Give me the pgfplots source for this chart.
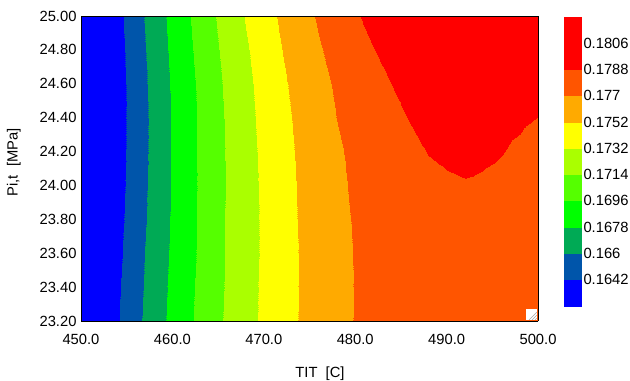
\documentclass[border=0pt]{standalone}
\usepackage{pgfplots}
\pgfplotsset{compat=1.18}
\usepackage{fontspec}
\setmainfont{Liberation Sans}
\newcommand{\lbl}{\fontsize{14.8}{17}\selectfont}
\begin{document}
\begin{tikzpicture}
\useasboundingbox (0,0) rectangle (630bp,381bp);
\begin{axis}[
  at={(81bp,60bp)}, anchor=south west,
  scale only axis, width=457bp, height=305bp,
  view={0}{90},
  xmin=450, xmax=500, ymin=23.2, ymax=25.0,
  xtick={450,460,470,480,490,500},
  xticklabels={450.0,460.0,470.0,480.0,490.0,500.0},
  ytick={23.2,23.4,23.6,23.8,24.0,24.2,24.4,24.6,24.8,25.0},
  yticklabels={23.20,23.40,23.60,23.80,24.00,24.20,24.40,24.60,24.80,25.00},
  major tick length=0pt,
  tick label style={font=\lbl, text=black},
  xticklabel style={yshift=-10bp},
  yticklabel style={xshift=-1bp},
  xlabel={TIT\ \ [C]}, ylabel={Pi,t\ \ [MPa]},
  label style={font=\lbl},
  xlabel style={at={(axis description cs:0.523,-0.172)}, anchor=center},
  ylabel style={at={(axis description cs:-0.147,0.52)}, anchor=center, rotate=0},
  axis line style={black, line width=0.7bp},
  axis on top,
  colormap={cmap}{rgb255=(0,0,255) rgb255=(0,85,170) rgb255=(0,170,85) rgb255=(0,255,0) rgb255=(85,255,0) rgb255=(170,255,0) rgb255=(255,255,0) rgb255=(255,170,0) rgb255=(255,85,0) rgb255=(255,0,0) rgb255=(255,0,0)},
  colormap access=piecewise constant,
  point meta min=0.16238, point meta max=0.18240,
  colorbar,
  colorbar style={
    at={(parent axis.north east)}, anchor=north west,
    xshift=17bp, yshift=-1bp,
    scale only axis, width=18bp, height=289bp,
    ytick={0.1642,0.16602,0.16784,0.16966,0.17148,0.1733,0.17512,0.17694,0.17876,0.18058},
    yticklabels={0.1642,0.166,0.1678,0.1696,0.1714,0.1732,0.1752,0.177,0.1788,0.1806},
    yticklabel style={font=\lbl, xshift=-1.5bp},
    major tick length=0pt,
    axis line style={draw=none},
  },
]
\addplot3[surf, shader=interp, mesh/cols=26] table {
x y z
450 23.2 0.16123
452 23.2 0.16267
454 23.2 0.16411
456 23.2 0.16557
458 23.2 0.16695
460 23.2 0.16828
462 23.2 0.16951
464 23.2 0.17066
466 23.2 0.17173
468 23.2 0.17272
470 23.2 0.17363
472 23.2 0.17443
474 23.2 0.17521
476 23.2 0.17581
478 23.2 0.17641
480 23.2 0.17700
482 23.2 0.17729
484 23.2 0.17750
486 23.2 0.17769
488 23.2 0.17781
490 23.2 0.17791
492 23.2 0.17798
494 23.2 0.17801
496 23.2 0.17803
498 23.2 0.17805
500 23.2 0.17805

450 23.4 0.16111
452 23.4 0.16256
454 23.4 0.16400
456 23.4 0.16546
458 23.4 0.16686
460 23.4 0.16819
462 23.4 0.16944
464 23.4 0.17057
466 23.4 0.17166
468 23.4 0.17266
470 23.4 0.17361
472 23.4 0.17441
474 23.4 0.17519
476 23.4 0.17579
478 23.4 0.17639
480 23.4 0.17699
482 23.4 0.17730
484 23.4 0.17754
486 23.4 0.17774
488 23.4 0.17789
490 23.4 0.17800
492 23.4 0.17807
494 23.4 0.17810
496 23.4 0.17812
498 23.4 0.17814
500 23.4 0.17814

450 23.6 0.16080
452 23.6 0.16231
454 23.6 0.16384
456 23.6 0.16535
458 23.6 0.16677
460 23.6 0.16808
462 23.6 0.16933
464 23.6 0.17050
466 23.6 0.17163
468 23.6 0.17261
470 23.6 0.17356
472 23.6 0.17439
474 23.6 0.17519
476 23.6 0.17583
478 23.6 0.17645
480 23.6 0.17701
482 23.6 0.17734
484 23.6 0.17761
486 23.6 0.17785
488 23.6 0.17803
490 23.6 0.17816
492 23.6 0.17823
494 23.6 0.17827
496 23.6 0.17827
498 23.6 0.17825
500 23.6 0.17821

450 23.8 0.16072
452 23.8 0.16222
454 23.8 0.16371
456 23.8 0.16520
458 23.8 0.16664
460 23.8 0.16800
462 23.8 0.16930
464 23.8 0.17048
466 23.8 0.17163
468 23.8 0.17261
470 23.8 0.17357
472 23.8 0.17443
474 23.8 0.17525
476 23.8 0.17588
478 23.8 0.17652
480 23.8 0.17707
482 23.8 0.17741
484 23.8 0.17772
486 23.8 0.17800
488 23.8 0.17820
490 23.8 0.17834
492 23.8 0.17841
494 23.8 0.17843
496 23.8 0.17840
498 23.8 0.17832
500 23.8 0.17821

450 24.0 0.16063
452 24.0 0.16213
454 24.0 0.16362
456 24.0 0.16511
458 24.0 0.16657
460 24.0 0.16793
462 24.0 0.16928
464 24.0 0.17046
466 24.0 0.17157
468 24.0 0.17263
470 24.0 0.17361
472 24.0 0.17448
474 24.0 0.17528
476 24.0 0.17598
478 24.0 0.17665
480 24.0 0.17716
482 24.0 0.17754
484 24.0 0.17790
486 24.0 0.17823
488 24.0 0.17849
490 24.0 0.17865
492 24.0 0.17871
494 24.0 0.17867
496 24.0 0.17854
498 24.0 0.17832
500 24.0 0.17803

450 24.1 0.16060
452 24.1 0.16209
454 24.1 0.16358
456 24.1 0.16507
458 24.1 0.16655
460 24.1 0.16793
462 24.1 0.16928
464 24.1 0.17048
466 24.1 0.17159
468 24.1 0.17266
470 24.1 0.17365
472 24.1 0.17452
474 24.1 0.17534
476 24.1 0.17603
478 24.1 0.17670
480 24.1 0.17719
482 24.1 0.17758
484 24.1 0.17796
486 24.1 0.17832
488 24.1 0.17861
490 24.1 0.17877
492 24.1 0.17883
494 24.1 0.17877
496 24.1 0.17863
498 24.1 0.17843
500 24.1 0.17812

450 24.2 0.16056
452 24.2 0.16205
454 24.2 0.16355
456 24.2 0.16502
458 24.2 0.16651
460 24.2 0.16793
462 24.2 0.16928
464 24.2 0.17048
466 24.2 0.17161
468 24.2 0.17268
470 24.2 0.17368
472 24.2 0.17456
474 24.2 0.17537
476 24.2 0.17607
478 24.2 0.17676
480 24.2 0.17723
482 24.2 0.17761
484 24.2 0.17801
486 24.2 0.17840
488 24.2 0.17880
490 24.2 0.17898
492 24.2 0.17905
494 24.2 0.17898
496 24.2 0.17881
498 24.2 0.17854
500 24.2 0.17821

450 24.4 0.16056
452 24.4 0.16205
454 24.4 0.16355
456 24.4 0.16502
458 24.4 0.16651
460 24.4 0.16793
462 24.4 0.16928
464 24.4 0.17050
466 24.4 0.17168
468 24.4 0.17279
470 24.4 0.17377
472 24.4 0.17468
474 24.4 0.17550
476 24.4 0.17623
478 24.4 0.17696
480 24.4 0.17743
482 24.4 0.17790
484 24.4 0.17838
486 24.4 0.17883
488 24.4 0.17912
490 24.4 0.17923
492 24.4 0.17929
494 24.4 0.17925
496 24.4 0.17912
498 24.4 0.17896
500 24.4 0.17874

450 24.6 0.16038
452 24.6 0.16194
454 24.6 0.16351
456 24.6 0.16507
458 24.6 0.16658
460 24.6 0.16802
462 24.6 0.16935
464 24.6 0.17061
466 24.6 0.17179
468 24.6 0.17290
470 24.6 0.17392
472 24.6 0.17487
474 24.6 0.17568
476 24.6 0.17647
478 24.6 0.17716
480 24.6 0.17770
482 24.6 0.17823
484 24.6 0.17878
486 24.6 0.17927
488 24.6 0.17963
490 24.6 0.17985
492 24.6 0.17996
494 24.6 0.18000
496 24.6 0.17998
498 24.6 0.17992
500 24.6 0.17985

450 24.8 0.16045
452 24.8 0.16203
454 24.8 0.16362
456 24.8 0.16520
458 24.8 0.16673
460 24.8 0.16817
462 24.8 0.16953
464 24.8 0.17081
466 24.8 0.17201
468 24.8 0.17312
470 24.8 0.17414
472 24.8 0.17512
474 24.8 0.17598
476 24.8 0.17681
478 24.8 0.17747
480 24.8 0.17809
482 24.8 0.17871
484 24.8 0.17929
486 24.8 0.17976
488 24.8 0.18007
490 24.8 0.18027
492 24.8 0.18040
494 24.8 0.18045
496 24.8 0.18047
498 24.8 0.18047
500 24.8 0.18045

450 25.0 0.16052
452 25.0 0.16214
454 25.0 0.16375
456 25.0 0.16536
458 25.0 0.16689
460 25.0 0.16833
462 25.0 0.16971
464 25.0 0.17104
466 25.0 0.17226
468 25.0 0.17343
470 25.0 0.17445
472 25.0 0.17541
474 25.0 0.17630
476 25.0 0.17714
478 25.0 0.17787
480 25.0 0.17858
482 25.0 0.17927
484 25.0 0.17971
486 25.0 0.18007
488 25.0 0.18036
490 25.0 0.18058
492 25.0 0.18073
494 25.0 0.18080
496 25.0 0.18083
498 25.0 0.18085
500 25.0 0.18085
};
\end{axis}
\fill[white] (526bp,61bp) rectangle (537bp,72bp);
\draw[gray!70, line width=0.6bp] (529bp,61bp) -- (537bp,69bp) (532bp,61bp) -- (537bp,66bp) (535bp,61bp) -- (537bp,63bp);
\end{tikzpicture}
\end{document}
